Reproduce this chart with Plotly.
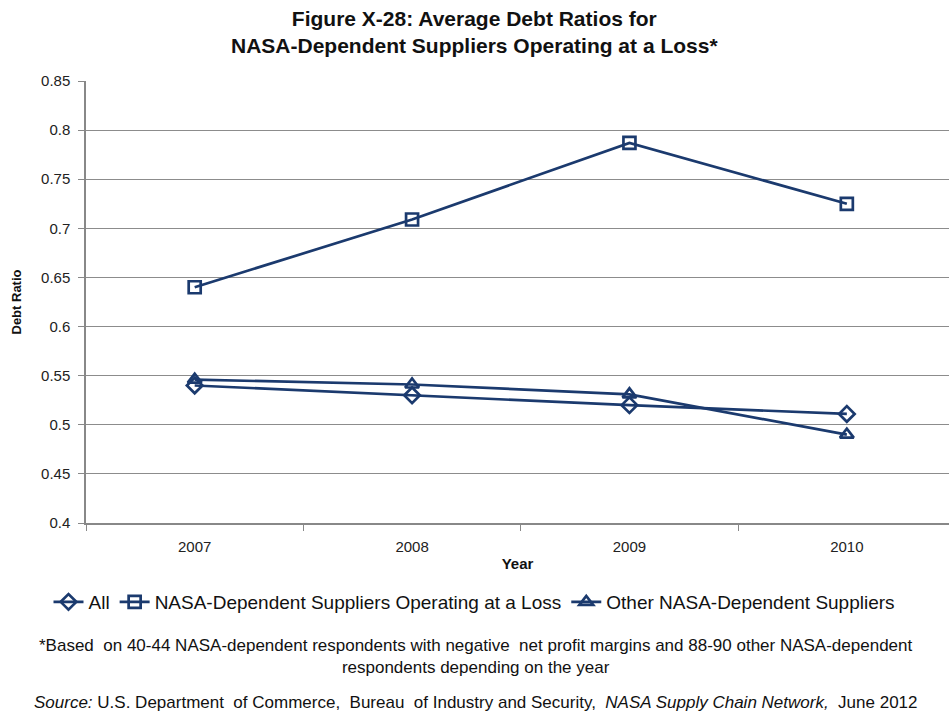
import plotly.graph_objects as go

years = ["2007", "2008", "2009", "2010"]
all_vals = [0.540, 0.530, 0.520, 0.511]
loss_vals = [0.640, 0.709, 0.787, 0.725]
other_vals = [0.546, 0.541, 0.531, 0.490]
y_ticks = [0.4, 0.45, 0.5, 0.55, 0.6, 0.65, 0.7, 0.75, 0.8, 0.85]
y_tick_text = ["0.4", "0.45", "0.5", "0.55", "0.6", "0.65", "0.7", "0.75", "0.8", "0.85"]

NAVY = "#1B3A6E"
FONT = "Liberation Sans, Arial, sans-serif"
H = 712.0
PLOT_H = 523 - 81

fig = go.Figure()
series = [
    ("All", all_vals, "diamond-open"),
    ("NASA-Dependent Suppliers Operating at a Loss", loss_vals, "square-open"),
    ("Other NASA-Dependent Suppliers", other_vals, "triangle-up-open"),
]
for name, vals, sym in series:
    fig.add_trace(go.Scatter(
        x=years, y=vals, name=name, mode="lines+markers",
        line=dict(color=NAVY, width=2.7),
        marker=dict(symbol=sym, size=12, color=NAVY, line=dict(width=2.7, color=NAVY)),
    ))

fig.update_layout(
    width=949, height=712,
    paper_bgcolor="white", plot_bgcolor="white",
    margin=dict(l=86, r=0, t=81, b=189, autoexpand=False),
    font=dict(family=FONT, color="#222222", size=13),
    xaxis=dict(
        type="category", range=[-0.5, 3.47], automargin=False,
        showline=True, linecolor="#888888", linewidth=1.5,
        ticks="outside", tickson="boundaries", ticklen=6, tickcolor="#888888",
        ticklabelstandoff=9,
        showgrid=False,
        tickfont=dict(size=15, family=FONT, color="#222222"),
        title=dict(text="<b>Year</b>", font=dict(size=15, family=FONT, color="#111111"), standoff=5),
    ),
    yaxis=dict(
        range=[0.4, 0.85], tickvals=y_ticks, ticktext=y_tick_text, automargin=False,
        showline=True, linecolor="#888888", linewidth=1.5,
        ticks="outside", ticklen=6, tickcolor="#888888",
        ticklabelstandoff=5,
        showgrid=True, gridcolor="#8C8C8C", gridwidth=1,
        zeroline=False,
        tickfont=dict(size=15, family=FONT, color="#222222"),
        title=dict(text="<b>Debt Ratio</b>", font=dict(size=13, family=FONT, color="#111111"), standoff=16),
    ),
    legend=dict(
        orientation="h", x=0.5, xanchor="center", xref="container",
        y=1 - 602 / H, yanchor="middle", yref="container",
        font=dict(size=19, family=FONT, color="#111111"),
        tracegroupgap=0,
    ),
)

fig.add_annotation(
    text="<b>Figure X-28: Average Debt Ratios for<br>NASA-Dependent Suppliers Operating at a Loss*</b>",
    xref="paper", yref="paper", x=(474.5 - 86) / (949 - 86), y=1 + (81 - 5) / PLOT_H,
    xanchor="center", yanchor="top", showarrow=False, align="center",
    font=dict(size=21, family=FONT, color="#111111"),
)
fig.add_annotation(
    text="*Based  on 40-44 NASA-dependent respondents with negative  net profit margins and 88-90 other NASA-dependent<br>respondents depending on the year",
    xref="paper", yref="paper", x=0.452, y=-(645 - 523 - 11) / PLOT_H, xanchor="center", yanchor="top",
    showarrow=False, font=dict(size=17, family=FONT, color="#111111"), align="center",
)
fig.add_annotation(
    text="<i>Source:</i> U.S. Department  of Commerce,  Bureau  of Industry and Security,  <i>NASA Supply Chain Network,</i>  June 2012",
    xref="paper", yref="paper", x=0.452, y=-(702 - 523) / PLOT_H, xanchor="center", yanchor="middle",
    showarrow=False, font=dict(size=17, family=FONT, color="#111111"), align="center",
)

fig.write_html(
    "out.html",
    config={"displayModeBar": False},
    post_script="document.body.style.margin='0';document.body.style.overflow='hidden';",
)
